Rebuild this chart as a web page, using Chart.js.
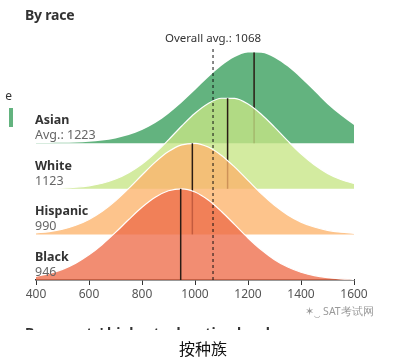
<!DOCTYPE html>
<html>
<head>
<meta charset="utf-8">
<script src="https://cdn.jsdelivr.net/npm/chart.js@4/dist/chart.umd.min.js"></script>
<style>
  html,body{margin:0;padding:0;background:#fff;}
  body{width:406px;height:364px;position:relative;overflow:hidden;font-family:"Noto Sans","Open Sans",sans-serif;}
  #wrap{position:absolute;left:0;top:0;width:406px;height:364px;}
  .t{position:absolute;white-space:nowrap;}
</style>
</head>
<body>
<div id="wrap"><canvas id="c" width="406" height="364"></canvas></div>
<div class="t" style="left:25px;top:5px;font-size:14px;font-weight:700;color:#333;letter-spacing:-0.2px;">By race</div>
<div style="position:absolute;left:5px;top:90px;width:7px;height:12px;overflow:hidden;">
  <div class="t" style="right:0;top:-3px;font-size:12px;color:#333;">e</div>
</div>
<div style="position:absolute;left:9px;top:108px;width:4px;height:19px;background:#63b37f;"></div>
<div class="t" style="left:305px;top:304px;font-size:10.5px;color:#9a9a9a;">&#x2736;&#x203F; SAT考试网</div>
<div style="position:absolute;left:25px;top:326px;width:300px;height:4px;overflow:hidden;">
  <div class="t" style="left:0;top:-3px;font-size:14px;font-weight:700;color:#333;">By parents' highest education level</div>
</div>
<div class="t" style="left:0;width:406px;top:336px;text-align:center;font-size:16px;color:#111;font-family:'Noto Sans CJK SC',sans-serif;">按种族</div>
<script>
const xValues = [400,450,500,550,600,650,700,750,800,850,900,950,1000,1050,1100,1150,1200,1250,1300,1350,1400,1450,1500,1550,1600];
const groups = ['Asian','White','Hispanic','Black'];
const meanLabels = ['Avg.: 1223','1123','990','946'];
const means = [1223,1123,990,946];
const overallAvg = 1068;
const xTicks = [400,600,800,1000,1200,1400,1600];
// relative density (peak = 1)
const asian    = [0.001,0.002,0.004,0.007,0.015,0.029,0.052,0.089,0.144,0.222,0.324,0.447,0.584,0.724,0.849,0.944,0.994,0.992,0.938,0.840,0.713,0.573,0.428,0.305,0.200];
const white    = [0.001,0.003,0.008,0.017,0.033,0.061,0.107,0.176,0.271,0.394,0.537,0.688,0.828,0.936,0.993,0.991,0.929,0.817,0.676,0.525,0.383,0.263,0.169,0.102,0.058];
const hispanic = [0.016,0.031,0.057,0.100,0.164,0.253,0.368,0.504,0.651,0.792,0.908,0.981,0.999,0.958,0.866,0.737,0.592,0.447,0.319,0.214,0.135,0.081,0.045,0.024,0.012];
const black    = [0.040,0.071,0.117,0.185,0.276,0.390,0.522,0.663,0.797,0.907,0.978,1.000,0.965,0.877,0.751,0.607,0.461,0.331,0.223,0.142,0.085,0.048,0.026,0.013,0.006];

const series = [asian, white, hispanic, black];
const fills = ['rgb(99,179,127)','rgba(199,229,133,0.78)','rgba(252,179,108,0.78)','rgba(238,109,74,0.78)'];
const PEAK = 2;
const bases = [3,2,1,0];

const datasets = [];
series.forEach((arr, i) => {
  const base = bases[i];
  const rank = bases[i]; // 0 = front
  datasets.push({
    label: groups[i],
    data: arr.map((v, k) => ({x: xValues[k], y: base + v * PEAK})),
    borderColor: i === 0 ? 'rgba(0,0,0,0)' : '#ffffff',
    borderWidth: 1.2,
    backgroundColor: fills[i],
    fill: {value: base},
    pointRadius: 0,
    cubicInterpolationMode: 'monotone',
    order: rank * 2 + 2
  });
  const peak = Math.max(...arr);
  datasets.push({
    label: groups[i] + ' mean',
    data: [{x: means[i], y: base}, {x: means[i], y: base + peak * PEAK}],
    borderColor: '#2a1c14',
    borderWidth: 1.5,
    pointRadius: 0,
    fill: false,
    order: rank * 2 + 1
  });
});
datasets.push({
  label: 'Overall',
  data: [{x: overallAvg, y: 0}, {x: overallAvg, y: 5.09}],
  borderColor: '#111',
  borderWidth: 1,
  borderDash: [3,3],
  pointRadius: 0,
  fill: false,
  order: 0
});

const labelPlugin = {
  id: 'labels',
  afterDraw(chart) {
    const ctx = chart.ctx, y = chart.scales.y, x = chart.scales.x;
    ctx.save();
    ctx.textAlign = 'left';
    ctx.textBaseline = 'alphabetic';
    groups.forEach((g, i) => {
      const py = y.getPixelForValue(bases[i]);
      ctx.fillStyle = '#333';
      ctx.font = '700 12.5px "Noto Sans"';
      ctx.fillText(g, 35, py - 19);
      ctx.fillStyle = '#666';
      ctx.font = '400 12.5px "Noto Sans"';
      ctx.fillText(meanLabels[i], 35, py - 4);
    });
    ctx.textAlign = 'center';
    ctx.fillStyle = '#333';
    ctx.font = '400 11.5px "Noto Sans"';
    ctx.fillText('Overall avg.: ' + overallAvg, x.getPixelForValue(overallAvg), 42);
    ctx.restore();
  }
};

new Chart(document.getElementById('c'), {
  type: 'line',
  data: {datasets},
  options: {
    responsive: false,
    animation: false,
    events: [],
    layout: {padding: {left: 36, right: 52, top: 0, bottom: 0}},
    plugins: {legend: {display: false}, tooltip: {enabled: false}},
    scales: {
      x: {
        type: 'linear', min: 400, max: 1600,
        afterBuildTicks: s => { s.ticks = xTicks.map(v => ({value: v})); },
        afterFit: s => { s.height = 84; },
        grid: {drawOnChartArea: false, drawTicks: true, tickLength: 5, color: '#333', lineWidth: 1},
        border: {display: true, color: '#333', width: 1.5},
        ticks: {color: '#555', font: {family: 'Noto Sans', size: 12}, padding: 2, maxRotation: 0, autoSkip: false,
                callback: v => String(v)}
      },
      y: {display: false, min: 0, max: 6.14}
    }
  },
  plugins: [labelPlugin]
});
</script>
</body>
</html>
